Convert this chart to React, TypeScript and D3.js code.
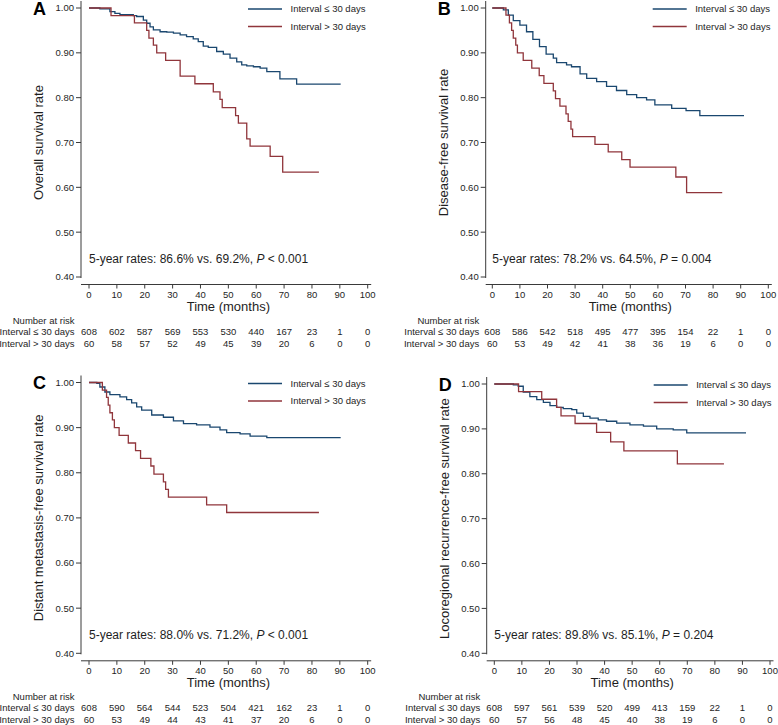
import React from "react";
import * as d3 from "d3";

// ---------- data ----------
const months = [0, 10, 20, 30, 40, 50, 60, 70, 80, 90, 100];
const yTicks = [0.4, 0.5, 0.6, 0.7, 0.8, 0.9, 1.0];
const groupLabels = ["Interval \u2264 30 days", "Interval > 30 days"];

// Panel A: overall survival
const osLe: [number, number][] = [[0,1],[3.9,0.998],[7.5,0.992],[9.3,0.988],[11.1,0.985],[15.9,0.983],[17.1,0.981],[19.5,0.973],[20.7,0.966],[21.9,0.958],[23.1,0.951],[25.5,0.947],[27.9,0.946],[30.3,0.944],[32.7,0.94],[35.0,0.936],[37.4,0.931],[39.2,0.925],[41.0,0.915],[42.8,0.912],[45.8,0.903],[48.2,0.897],[50.6,0.888],[53.0,0.88],[54.8,0.873],[56.6,0.871],[59.0,0.869],[61.4,0.866],[63.8,0.858],[68.5,0.842],[74.5,0.83],[90.3,0.83]];
const osGt: [number, number][] = [[0,1],[7.9,0.983],[16.3,0.967],[20.7,0.95],[21.5,0.933],[23.1,0.917],[24.3,0.9],[27.5,0.883],[32.7,0.848],[38.0,0.831],[44.6,0.813],[47.0,0.796],[47.8,0.778],[52.6,0.76],[53.6,0.743],[56.6,0.708],[57.8,0.692],[65.0,0.669],[69.5,0.634],[82.5,0.634]];
const osRiskLe = [608, 602, 587, 569, 553, 530, 440, 167, 23, 1, 0];
const osRiskGt = [60, 58, 57, 52, 49, 45, 39, 20, 6, 0, 0];

// Panel B: disease-free survival
const dfsLe: [number, number][] = [[0,1],[4.0,0.996],[5.8,0.984],[7.6,0.972],[10.0,0.962],[12.4,0.947],[14.7,0.93],[17.1,0.914],[19.5,0.897],[22.1,0.888],[23.3,0.878],[26.9,0.873],[28.7,0.869],[31.8,0.853],[34.2,0.843],[37.8,0.836],[41.4,0.825],[45.0,0.816],[48.7,0.807],[52.3,0.8],[55.9,0.795],[58.9,0.784],[65.0,0.776],[70.2,0.771],[75.2,0.76],[91.2,0.76]];
const dfsGt: [number, number][] = [[0,1],[4.95,0.984],[6.2,0.967],[7.0,0.95],[7.6,0.933],[8.5,0.917],[9.1,0.9],[11.2,0.883],[14.3,0.866],[17.0,0.849],[18.7,0.832],[22.1,0.815],[22.9,0.798],[24.5,0.781],[26.7,0.764],[27.5,0.747],[28.5,0.73],[29.1,0.713],[37.2,0.696],[42.0,0.679],[46.9,0.662],[49.9,0.645],[66.5,0.623],[70.4,0.588],[83.3,0.588]];
const dfsRiskLe = [608, 586, 542, 518, 495, 477, 395, 154, 22, 1, 0];
const dfsRiskGt = [60, 53, 49, 42, 41, 38, 36, 19, 6, 0, 0];

// Panel C: distant metastasis-free survival
const dmfsLe: [number, number][] = [[0,1],[2.8,0.998],[3.9,0.99],[5.7,0.979],[7.5,0.973],[11.1,0.968],[13.5,0.962],[15.3,0.955],[17.1,0.946],[18.9,0.939],[22.5,0.928],[26.7,0.923],[30.3,0.915],[33.9,0.909],[38.6,0.906],[43.4,0.901],[47.0,0.895],[49.4,0.889],[54.2,0.886],[57.8,0.881],[63.8,0.878],[90.3,0.878]];
const dmfsGt: [number, number][] = [[0,1],[4.8,0.983],[6.3,0.967],[6.9,0.95],[7.5,0.933],[8.4,0.917],[9.1,0.9],[10.8,0.883],[14.1,0.866],[16.7,0.849],[18.5,0.832],[22.2,0.815],[23.3,0.797],[26.7,0.78],[27.5,0.763],[28.5,0.746],[42.2,0.729],[49.4,0.712],[82.5,0.712]];
const dmfsRiskLe = [608, 590, 564, 544, 523, 504, 421, 162, 23, 1, 0];
const dmfsRiskGt = [60, 53, 49, 44, 43, 41, 37, 20, 6, 0, 0];

// Panel D: locoregional recurrence-free survival
const lrfsLe: [number, number][] = [[0,1],[6.9,0.998],[8.7,0.995],[10.5,0.982],[12.9,0.972],[15.4,0.965],[17.8,0.959],[20.2,0.952],[22.6,0.948],[25.0,0.945],[28.1,0.943],[29.9,0.935],[32.3,0.928],[34.7,0.924],[37.7,0.92],[40.7,0.917],[44.4,0.913],[49.2,0.909],[54.1,0.906],[58.9,0.9],[64.9,0.898],[69.8,0.891],[91.3,0.891]];
const lrfsGt: [number, number][] = [[0,1],[8.8,0.983],[17.2,0.966],[22.6,0.948],[24.2,0.929],[29.3,0.912],[37.1,0.892],[42.2,0.871],[47.0,0.851],[66.4,0.822],[83.3,0.822]];
const lrfsRiskLe = [608, 597, 561, 539, 520, 499, 413, 159, 22, 1, 0];
const lrfsRiskGt = [60, 57, 56, 48, 45, 40, 38, 19, 6, 0, 0];

const panelLetters = ["A", "B", "C", "D"];
const yTitles = [
  "Overall survival rate",
  "Disease-free survival rate",
  "Distant metastasis-free survival rate",
  "Locoregional recurrence-free survival rate",
];
const rateTexts = [
  ["5-year rates: 86.6% vs. 69.2%, ", "P", " < 0.001"],
  ["5-year rates: 78.2% vs. 64.5%, ", "P", " = 0.004"],
  ["5-year rates: 88.0% vs. 71.2%, ", "P", " < 0.001"],
  ["5-year rates: 89.8% vs. 85.1%, ", "P", " = 0.204"],
];
const curvesLe = [osLe, dfsLe, dmfsLe, lrfsLe];
const curvesGt = [osGt, dfsGt, dmfsGt, lrfsGt];
const risksLe = [osRiskLe, dfsRiskLe, dmfsRiskLe, lrfsRiskLe];
const risksGt = [osRiskGt, dfsRiskGt, dmfsRiskGt, lrfsRiskGt];

// ---------- layout ----------
const layouts = [
  { axisX: 81, x0: 89, x1: 367.7, yTop: 8, yBot: 277 },
  { axisX: 485.7, x0: 492.3, x1: 768.3, yTop: 8, yBot: 277 },
  { axisX: 81, x0: 89, x1: 367.7, yTop: 382.5, yBot: 653.3 },
  { axisX: 486.7, x0: 494.3, x1: 770, yTop: 384, yBot: 653.3 },
];

const BLUE = "#1a476f";
const RED = "#90353b";
const AXIS = "#3a3a3a";
const TEXT = "#1e1e1e";
const FONT = "'Liberation Sans', Arial, Helvetica, sans-serif";

function Panel({ i }: { i: number }) {
  const L = layouts[i];
  const x = d3.scaleLinear().domain([0, 100]).range([L.x0, L.x1]);
  const y = d3.scaleLinear().domain([0.4, 1.0]).range([L.yBot, L.yTop]);
  const line = d3
    .line<[number, number]>()
    .x((d) => x(d[0]))
    .y((d) => y(d[1]))
    .curve(d3.curveStepAfter);
  const xAxisY = L.yBot + 7.5;
  const fmt = d3.format(".2f");
  const legX = L.axisX + 167;
  const yMid = (L.yTop + L.yBot) / 2;
  const labelRight = L.axisX - 6.5;

  return (
    <g fontFamily={FONT}>
      {/* panel letter */}
      <text x={L.axisX - 48} y={L.yTop + 6.5} fontSize={18} fontWeight="bold" fill="#000">
        {panelLetters[i]}
      </text>
      {/* y axis */}
      <line x1={L.axisX} x2={L.axisX} y1={L.yTop - 7} y2={L.yBot + 1} stroke={AXIS} strokeWidth={1} />
      {yTicks.map((t) => (
        <g key={t}>
          <line x1={L.axisX - 5} x2={L.axisX} y1={y(t)} y2={y(t)} stroke={AXIS} strokeWidth={1} />
          <text x={L.axisX - 7} y={y(t) + 3.4} fontSize={9.5} textAnchor="end" fill={TEXT}>
            {fmt(t)}
          </text>
        </g>
      ))}
      <text
        transform={`translate(${L.axisX - 38},${yMid}) rotate(-90)`}
        textAnchor="middle"
        fontSize={13}
        fill={TEXT}
      >
        {yTitles[i]}
      </text>
      {/* x axis */}
      <line x1={L.axisX} x2={x(100) + 3.5} y1={xAxisY} y2={xAxisY} stroke={AXIS} strokeWidth={1} />
      {months.map((m) => (
        <g key={m}>
          <line x1={x(m)} x2={x(m)} y1={xAxisY} y2={xAxisY + 4} stroke={AXIS} strokeWidth={1} />
          <text x={x(m)} y={L.yBot + 21} fontSize={9.5} textAnchor="middle" fill={TEXT}>
            {m}
          </text>
        </g>
      ))}
      <text x={(x(0) + x(100)) / 2} y={L.yBot + 34} fontSize={13} textAnchor="middle" fill={TEXT}>
        Time (months)
      </text>
      {/* curves */}
      <path d={line(curvesLe[i]) || ""} fill="none" stroke={BLUE} strokeWidth={1.3} />
      <path d={line(curvesGt[i]) || ""} fill="none" stroke={RED} strokeWidth={1.3} />
      {/* legend */}
      {[BLUE, RED].map((c, k) => (
        <g key={k}>
          <line x1={legX} x2={legX + 34} y1={L.yTop + 1 + k * 17.5} y2={L.yTop + 1 + k * 17.5} stroke={c} strokeWidth={1.3} />
          <text x={legX + 42.5} y={L.yTop + 1 + k * 17.5 + 3.4} fontSize={9.5} fill={TEXT}>
            {groupLabels[k]}
          </text>
        </g>
      ))}
      {/* 5-year rates */}
      <text x={L.x0} y={L.yBot - 14.5} fontSize={12} fill={TEXT}>
        {rateTexts[i][0]}
        <tspan fontStyle="italic">{rateTexts[i][1]}</tspan>
        {rateTexts[i][2]}
      </text>
      {/* risk table */}
      <text x={labelRight} y={L.yBot + 46.5} fontSize={9.5} textAnchor="end" fill={TEXT}>
        Number at risk
      </text>
      {[risksLe[i], risksGt[i]].map((row, k) => (
        <g key={k}>
          <text x={labelRight} y={L.yBot + 58 + k * 12} fontSize={9.5} textAnchor="end" fill={TEXT}>
            {groupLabels[k]}
          </text>
          {row.map((n, j) => (
            <text key={j} x={x(months[j])} y={L.yBot + 58 + k * 12} fontSize={9.5} textAnchor="middle" fill={TEXT}>
              {n}
            </text>
          ))}
        </g>
      ))}
    </g>
  );
}

export default function App() {
  return (
    <svg
      width={778}
      height={725}
      style={{ position: "absolute", left: 0, top: 0, background: "#fff" }}
    >
      <rect width={778} height={725} fill="#fff" />
      {[0, 1, 2, 3].map((i) => (
        <Panel key={i} i={i} />
      ))}
    </svg>
  );
}
